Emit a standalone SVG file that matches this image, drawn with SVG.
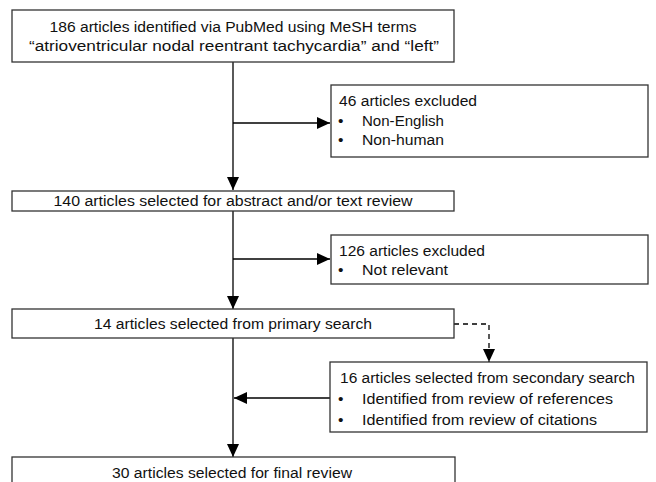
<svg xmlns="http://www.w3.org/2000/svg" width="656" height="482" viewBox="0 0 656 482">
<defs>
<marker id="ah" markerUnits="userSpaceOnUse" markerWidth="13" markerHeight="13" viewBox="0 0 13 13" refX="13" refY="6.5" orient="auto">
<path d="M0,0.5 L13,6.5 L0,12.5 Z" fill="#000"/>
</marker>
<style>
.box{fill:#fff;stroke:#333;stroke-width:1.3}
.t{font-family:"Liberation Sans",Arial,sans-serif;font-size:15.5px;fill:#111}
.c{text-anchor:middle}
.ln{stroke:#000;stroke-width:1.3;fill:none}
.dash{stroke:#000;stroke-width:1.3;fill:none;stroke-dasharray:5,4}
</style>
</defs>
<rect width="656" height="482" fill="#fff"/>
<g id="connectors">
<line class="ln" x1="233" y1="62" x2="233" y2="190" marker-end="url(#ah)"/>
<line class="ln" x1="233" y1="123" x2="330" y2="123" marker-end="url(#ah)"/>
<line class="ln" x1="233" y1="211" x2="233" y2="309" marker-end="url(#ah)"/>
<line class="ln" x1="233" y1="259" x2="330" y2="259" marker-end="url(#ah)"/>
<line class="ln" x1="233" y1="338" x2="233" y2="457" marker-end="url(#ah)"/>
<line class="ln" x1="330" y1="398" x2="234" y2="398" marker-end="url(#ah)"/>
<polyline class="dash" points="454,324 489,324 489,362" marker-end="url(#ah)"/>
</g>
<g id="n186">
<rect class="box" x="12" y="10" width="442" height="52"/>
<text class="t c" x="233" y="32" textLength="367" lengthAdjust="spacingAndGlyphs">186 articles identified via PubMed using MeSH terms</text>
<text class="t c" x="234" y="51" textLength="410" lengthAdjust="spacingAndGlyphs">“atrioventricular nodal reentrant tachycardia” and “left”</text>
</g>
<g id="n46">
<rect class="box" x="331" y="85" width="317" height="72"/>
<text class="t" x="339" y="106" textLength="138" lengthAdjust="spacingAndGlyphs">46 articles excluded</text>
<text class="t" x="338" y="126">•</text>
<text class="t" x="362" y="126" textLength="82" lengthAdjust="spacingAndGlyphs">Non-English</text>
<text class="t" x="338" y="145">•</text>
<text class="t" x="362" y="145" textLength="82" lengthAdjust="spacingAndGlyphs">Non-human</text>
</g>
<g id="n140">
<rect class="box" x="12" y="191" width="442" height="20"/>
<text class="t c" x="233" y="206" textLength="359" lengthAdjust="spacingAndGlyphs">140 articles selected for abstract and/or text review</text>
</g>
<g id="n126">
<rect class="box" x="331" y="235" width="317" height="49"/>
<text class="t" x="339" y="256" textLength="146" lengthAdjust="spacingAndGlyphs">126 articles excluded</text>
<text class="t" x="338" y="275">•</text>
<text class="t" x="362" y="275" textLength="86" lengthAdjust="spacingAndGlyphs">Not relevant</text>
</g>
<g id="n14">
<rect class="box" x="12" y="309" width="442" height="29"/>
<text class="t c" x="233" y="329" textLength="278" lengthAdjust="spacingAndGlyphs">14 articles selected from primary search</text>
</g>
<g id="n16">
<rect class="box" x="330" y="362" width="317" height="70"/>
<text class="t" x="340" y="383" textLength="295" lengthAdjust="spacingAndGlyphs">16 articles selected from secondary search</text>
<text class="t" x="338" y="404">•</text>
<text class="t" x="362" y="404" textLength="251" lengthAdjust="spacingAndGlyphs">Identified from review of references</text>
<text class="t" x="338" y="425">•</text>
<text class="t" x="362" y="425" textLength="235" lengthAdjust="spacingAndGlyphs">Identified from review of citations</text>
</g>
<g id="n30">
<rect class="box" x="12" y="457" width="443" height="40"/>
<text class="t c" x="232" y="478" textLength="240" lengthAdjust="spacingAndGlyphs">30 articles selected for final review</text>
</g>
</svg>
